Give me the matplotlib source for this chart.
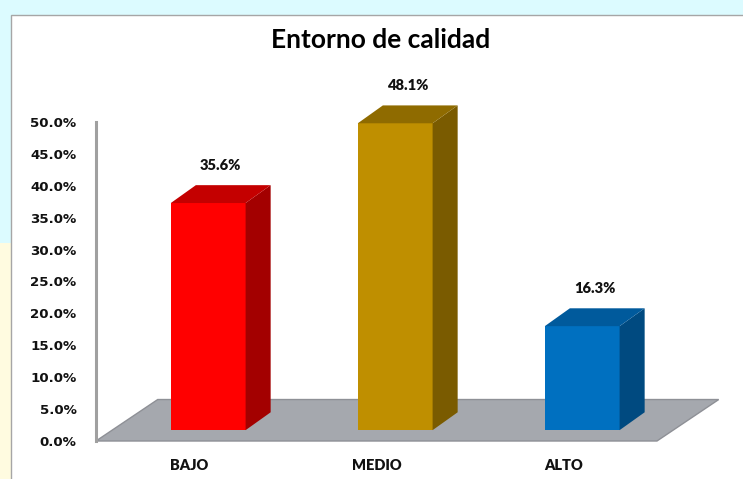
import matplotlib.pyplot as plt
from matplotlib.patches import Polygon, Rectangle

categories = ['BAJO', 'MEDIO', 'ALTO']
values = [35.6, 48.1, 16.3]
front_colors = ['#ff0000', '#bf8f00', '#0070c0']
side_colors = ['#a30000', '#7a5b00', '#004a80']
top_colors = ['#c40000', '#8f6b00', '#005a9c']
yticks = [0, 5, 10, 15, 20, 25, 30, 35, 40, 45, 50]

# fake 3d geometry (data units)
bar_w = 0.4
bar_dx, bar_dy = 0.134, 2.8
base = 1.7
floor_dx, floor_dy = 0.33, 6.5
xmin, xmax = -0.6, 2.4

fig = plt.figure(figsize=(7.43, 4.79), dpi=100)
fig.patch.set_facecolor('#dcfbff')
fig.add_artist(Rectangle((0, 0), 11 / 743, 236 / 479, transform=fig.transFigure,
                         fc='#fffbe0', ec='none', zorder=-2))
fig.add_artist(Rectangle((11 / 743, -0.01), 1, 1 - 15 / 479 + 0.01,
                         transform=fig.transFigure, fc='white',
                         ec='#a6a6a6', lw=1, zorder=-1))

ax = fig.add_axes([96 / 743, 38 / 479, 561 / 743, 319 / 479])
ax.patch.set_visible(False)
ax.set_xlim(xmin, xmax)
ax.set_ylim(0, 50)

# floor
floor = Polygon([(xmin, 0), (xmax, 0), (xmax + floor_dx, floor_dy),
                 (xmin + floor_dx, floor_dy)], closed=True,
                fc='#a5a8ae', ec='#8e9096', lw=1, clip_on=False, zorder=1)
ax.add_patch(floor)

for i, v in enumerate(values):
    x0, x1 = i - bar_w / 2, i + bar_w / 2
    y0, y1 = base, base + v
    front = Polygon([(x0, y0), (x1, y0), (x1, y1), (x0, y1)],
                    fc=front_colors[i], ec='none', clip_on=False, zorder=3)
    side = Polygon([(x1, y0), (x1 + bar_dx, y0 + bar_dy),
                    (x1 + bar_dx, y1 + bar_dy), (x1, y1)],
                   fc=side_colors[i], ec='none', clip_on=False, zorder=3)
    top = Polygon([(x0, y1), (x1, y1), (x1 + bar_dx, y1 + bar_dy),
                   (x0 + bar_dx, y1 + bar_dy)],
                  fc=top_colors[i], ec='none', clip_on=False, zorder=3)
    for p in (front, side, top):
        ax.add_patch(p)
    ax.text(i + bar_dx / 2, y1 + bar_dy + 3.1, f'{v:.1f}%', ha='center',
            va='center', fontsize=10.5, fontweight='heavy', family='Lato',
            color='#111111')

for s in ['top', 'right', 'bottom']:
    ax.spines[s].set_visible(False)
ax.spines['left'].set_color('#a0a0a0')
ax.spines['left'].set_linewidth(2.2)

ax.set_yticks(yticks)
ax.set_yticklabels([f'{t:.1f}%' for t in yticks], fontsize=9.6,
                   fontweight='bold', color='#111111')
ax.tick_params(axis='y', length=0, pad=14)
ax.set_xticks([i - 0.1 for i in range(len(categories))])
ax.set_xticklabels(categories, fontsize=10.5, fontweight='heavy',
                   family='Lato', color='#111111')
ax.tick_params(axis='x', length=0, pad=13)

fig.text(381 / 743, 1 - 40 / 479, 'Entorno de calidad', ha='center',
         va='center', fontsize=19, fontweight='bold', family='Lato')

plt.savefig('out.png', dpi=100)
